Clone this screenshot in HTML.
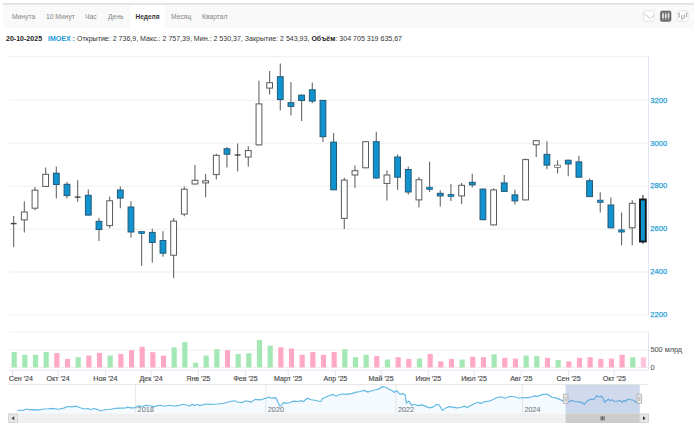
<!DOCTYPE html>
<html><head><meta charset="utf-8">
<style>
html,body{margin:0;padding:0;background:#fff;width:700px;height:425px;overflow:hidden;font-family:"Liberation Sans",sans-serif;}
#top{position:absolute;left:3px;top:3px;width:691px;height:2px;background:linear-gradient(#dcdcdc,#ececec);}
#tabs{position:absolute;left:3px;top:5px;width:691px;height:23px;background:#f9f9f9;}
.tab{position:absolute;top:0;height:23px;line-height:23.6px;font-size:6.9px;color:#858585;transform:scaleX(0.975);transform-origin:0 0;white-space:nowrap;}
.act{background:#fff;color:#333;font-weight:bold;font-size:6.5px;transform:none;}
#info{position:absolute;left:6px;top:34px;font-size:7.05px;color:#333;white-space:nowrap;line-height:10px;}
#info b{color:#222}
#info .t{color:#1a9ad9;font-weight:bold;}
svg{position:absolute;left:0;top:0;}
.yl{font-size:7.6px;fill:#2a9fd6;stroke:#2a9fd6;stroke-width:0.25px;font-family:"Liberation Sans",sans-serif;}
.vl{font-size:7.3px;fill:#5a5a5a;stroke:#5a5a5a;stroke-width:0.1px;font-family:"Liberation Sans",sans-serif;}
.xl{font-size:7.1px;fill:#4a4a4a;stroke:#4a4a4a;stroke-width:0.15px;font-family:"Liberation Sans",sans-serif;}
.nl{font-size:7.3px;fill:#7c7c7c;stroke:#7c7c7c;stroke-width:0.08px;font-family:"Liberation Sans",sans-serif;}
</style></head><body>
<div id="top"></div>
<div id="tabs">
<div class="tab" style="left:8.5px">Минута</div>
<div class="tab" style="left:42.5px">10 Минут</div>
<div class="tab" style="left:82px">Час</div>
<div class="tab" style="left:105px">День</div>
<div class="tab act" style="left:127px;width:35px;text-align:center">Неделя</div>
<div class="tab" style="left:168px">Месяц</div>
<div class="tab" style="left:199px">Квартал</div>
</div>
<svg width="700" height="30" style="position:absolute;left:0;top:0">
<rect x="643.5" y="10.9" width="10.6" height="10.4" rx="1.6" fill="#fff" stroke="#e2e2e2" stroke-width="0.9"/>
<polyline points="643.9,13.5 650.3,18.5 654,15.3" fill="none" stroke="#c2c2c2" stroke-width="0.9"/>
<rect x="660.4" y="11" width="10.6" height="10.4" rx="1.6" fill="#6d6d6d" stroke="#6a6a6a" stroke-width="0.6"/>
<g stroke="#d8d8d8" stroke-width="0.6"><line x1="663" y1="12.3" x2="663" y2="20.2"/><line x1="665.7" y1="12.3" x2="665.7" y2="20.2"/><line x1="668.5" y1="12.3" x2="668.5" y2="20.2"/></g>
<g fill="#e6e6e6"><rect x="662.2" y="13.5" width="1.6" height="4.6"/><rect x="664.9" y="14" width="1.6" height="4.2"/><rect x="667.7" y="13.2" width="1.6" height="4.6"/></g>
<rect x="677.5" y="10.9" width="10.6" height="10.4" rx="1.6" fill="#fff" stroke="#e2e2e2" stroke-width="0.9"/>
<g fill="none" stroke="#9e9e9e" stroke-width="0.9"><path d="M679.2,12.8 V17.4 M678.3,13.6 H679.2 M679.2,16.6 H680"/><path d="M681.8,15.2 V19.8 M681,16 H681.8 M681.8,19 H682.6"/><path d="M684.2,14.6 V19 M683.4,18.2 H684.2 M684.2,15.4 H685"/><path d="M686.6,12.6 V17 M685.8,16.2 H686.6 M686.6,13.4 H687.4"/></g>
</svg>
<div id="info"><b>20-10-2025</b>&nbsp;&nbsp; <span class="t">IMOEX :</span> Открытие: 2 736,9, Макс.: 2 757,39, Мин.: 2 530,37, Закрытие: 2 543,93, <b>Объём</b>: 304 705 319 635,67</div>
<svg width="700" height="425" viewBox="0 0 700 425">
<line x1="9" y1="56.7" x2="648" y2="56.7" stroke="#efefef" stroke-width="1"/>
<line x1="9" y1="100.2" x2="648" y2="100.2" stroke="#efefef" stroke-width="1"/>
<line x1="9" y1="143.2" x2="648" y2="143.2" stroke="#efefef" stroke-width="1"/>
<line x1="9" y1="186.1" x2="648" y2="186.1" stroke="#efefef" stroke-width="1"/>
<line x1="9" y1="229.1" x2="648" y2="229.1" stroke="#efefef" stroke-width="1"/>
<line x1="9" y1="272.0" x2="648" y2="272.0" stroke="#efefef" stroke-width="1"/>
<line x1="9" y1="314.9" x2="648" y2="314.9" stroke="#efefef" stroke-width="1"/>
<text x="650.3" y="102.5" class="yl">3200</text>
<text x="650.3" y="145.5" class="yl">3000</text>
<text x="650.3" y="188.4" class="yl">2800</text>
<text x="650.3" y="231.4" class="yl">2600</text>
<text x="650.3" y="274.3" class="yl">2400</text>
<text x="650.3" y="317.2" class="yl">2200</text>
<line x1="648.5" y1="56" x2="648.5" y2="315" stroke="#dfe5f3" stroke-width="1"/>
<line x1="13.66" y1="216.1" x2="13.66" y2="246.9" stroke="#666" stroke-width="1.1"/>
<line x1="10.76" y1="223.60" x2="16.56" y2="223.60" stroke="#444" stroke-width="1.4"/>
<line x1="24.32" y1="201.3" x2="24.32" y2="232.5" stroke="#666" stroke-width="1.1"/>
<rect x="21.43" y="212.0" width="5.80" height="7.9" fill="#ffffff" stroke="#5a5a5a" stroke-width="1"/>
<line x1="34.99" y1="187.1" x2="34.99" y2="210.2" stroke="#666" stroke-width="1.1"/>
<rect x="32.09" y="190.2" width="5.80" height="18.0" fill="#ffffff" stroke="#5a5a5a" stroke-width="1"/>
<line x1="45.66" y1="167.4" x2="45.66" y2="186.9" stroke="#666" stroke-width="1.1"/>
<rect x="42.76" y="174.3" width="5.80" height="12.1" fill="#ffffff" stroke="#5a5a5a" stroke-width="1"/>
<line x1="56.32" y1="166.4" x2="56.32" y2="198.6" stroke="#666" stroke-width="1.1"/>
<rect x="53.42" y="173.2" width="5.80" height="11.3" fill="#1193d0" stroke="#245a76" stroke-width="1"/>
<line x1="66.98" y1="182.1" x2="66.98" y2="198.6" stroke="#666" stroke-width="1.1"/>
<rect x="64.08" y="184.3" width="5.80" height="11.3" fill="#1193d0" stroke="#245a76" stroke-width="1"/>
<line x1="77.65" y1="180.2" x2="77.65" y2="201.8" stroke="#666" stroke-width="1.1"/>
<line x1="74.75" y1="197.10" x2="80.55" y2="197.10" stroke="#444" stroke-width="1.4"/>
<line x1="88.31" y1="189.5" x2="88.31" y2="215.6" stroke="#666" stroke-width="1.1"/>
<rect x="85.41" y="195.3" width="5.80" height="19.8" fill="#1193d0" stroke="#245a76" stroke-width="1"/>
<line x1="98.98" y1="217.7" x2="98.98" y2="241.0" stroke="#666" stroke-width="1.1"/>
<rect x="96.08" y="221.3" width="5.80" height="8.2" fill="#1193d0" stroke="#245a76" stroke-width="1"/>
<line x1="109.64" y1="196.5" x2="109.64" y2="228.3" stroke="#666" stroke-width="1.1"/>
<rect x="106.74" y="200.8" width="5.80" height="24.8" fill="#ffffff" stroke="#5a5a5a" stroke-width="1"/>
<line x1="120.31" y1="186.4" x2="120.31" y2="208.2" stroke="#666" stroke-width="1.1"/>
<rect x="117.41" y="190.0" width="5.80" height="8.1" fill="#1193d0" stroke="#245a76" stroke-width="1"/>
<line x1="130.97" y1="201.2" x2="130.97" y2="237.6" stroke="#666" stroke-width="1.1"/>
<rect x="128.07" y="207.0" width="5.80" height="25.0" fill="#1193d0" stroke="#245a76" stroke-width="1"/>
<line x1="141.64" y1="232.0" x2="141.64" y2="265.8" stroke="#666" stroke-width="1.1"/>
<rect x="138.74" y="231.40" width="5.80" height="2.2" fill="#1193d0" stroke="#245a76" stroke-width="0.7"/>
<line x1="152.30" y1="228.7" x2="152.30" y2="262.6" stroke="#666" stroke-width="1.1"/>
<rect x="149.40" y="232.4" width="5.80" height="10.0" fill="#1193d0" stroke="#245a76" stroke-width="1"/>
<line x1="162.97" y1="231.3" x2="162.97" y2="256.7" stroke="#666" stroke-width="1.1"/>
<rect x="160.07" y="240.5" width="5.80" height="12.7" fill="#1193d0" stroke="#245a76" stroke-width="1"/>
<line x1="173.63" y1="218.0" x2="173.63" y2="278.0" stroke="#666" stroke-width="1.1"/>
<rect x="170.73" y="221.1" width="5.80" height="34.1" fill="#ffffff" stroke="#5a5a5a" stroke-width="1"/>
<line x1="184.30" y1="186.6" x2="184.30" y2="216.3" stroke="#666" stroke-width="1.1"/>
<rect x="181.40" y="189.2" width="5.80" height="24.9" fill="#ffffff" stroke="#5a5a5a" stroke-width="1"/>
<line x1="194.96" y1="165.0" x2="194.96" y2="184.5" stroke="#666" stroke-width="1.1"/>
<rect x="192.06" y="180.3" width="5.80" height="3.7" fill="#ffffff" stroke="#5a5a5a" stroke-width="1"/>
<line x1="205.63" y1="173.9" x2="205.63" y2="197.2" stroke="#666" stroke-width="1.1"/>
<rect x="202.73" y="180.8" width="5.80" height="2.1" fill="#ffffff" stroke="#5a5a5a" stroke-width="1"/>
<line x1="216.29" y1="153.8" x2="216.29" y2="179.4" stroke="#666" stroke-width="1.1"/>
<rect x="213.39" y="155.3" width="5.80" height="19.3" fill="#ffffff" stroke="#5a5a5a" stroke-width="1"/>
<line x1="226.96" y1="146.9" x2="226.96" y2="167.4" stroke="#666" stroke-width="1.1"/>
<rect x="224.06" y="148.8" width="5.80" height="5.4" fill="#1193d0" stroke="#245a76" stroke-width="1"/>
<line x1="237.62" y1="143.4" x2="237.62" y2="171.6" stroke="#666" stroke-width="1.1"/>
<line x1="234.72" y1="155.00" x2="240.52" y2="155.00" stroke="#444" stroke-width="1.4"/>
<line x1="248.29" y1="146.2" x2="248.29" y2="166.4" stroke="#666" stroke-width="1.1"/>
<rect x="245.39" y="150.6" width="5.80" height="6.4" fill="#ffffff" stroke="#5a5a5a" stroke-width="1"/>
<line x1="258.95" y1="80.8" x2="258.95" y2="145.4" stroke="#666" stroke-width="1.1"/>
<rect x="256.06" y="103.9" width="5.80" height="41.0" fill="#ffffff" stroke="#5a5a5a" stroke-width="1"/>
<line x1="269.62" y1="71.0" x2="269.62" y2="94.5" stroke="#666" stroke-width="1.1"/>
<rect x="266.72" y="82.7" width="5.80" height="5.4" fill="#ffffff" stroke="#5a5a5a" stroke-width="1"/>
<line x1="280.29" y1="63.5" x2="280.29" y2="110.5" stroke="#666" stroke-width="1.1"/>
<rect x="277.39" y="76.7" width="5.80" height="22.9" fill="#1193d0" stroke="#245a76" stroke-width="1"/>
<line x1="290.95" y1="82.1" x2="290.95" y2="115.4" stroke="#666" stroke-width="1.1"/>
<rect x="288.05" y="102.7" width="5.80" height="3.7" fill="#1193d0" stroke="#245a76" stroke-width="1"/>
<line x1="301.62" y1="94.6" x2="301.62" y2="121.1" stroke="#666" stroke-width="1.1"/>
<rect x="298.72" y="95.1" width="5.80" height="5.4" fill="#1193d0" stroke="#245a76" stroke-width="1"/>
<line x1="312.28" y1="82.5" x2="312.28" y2="103.3" stroke="#666" stroke-width="1.1"/>
<rect x="309.38" y="89.8" width="5.80" height="11.3" fill="#1193d0" stroke="#245a76" stroke-width="1"/>
<line x1="322.94" y1="99.9" x2="322.94" y2="141.9" stroke="#666" stroke-width="1.1"/>
<rect x="320.05" y="100.4" width="5.80" height="36.3" fill="#1193d0" stroke="#245a76" stroke-width="1"/>
<line x1="333.61" y1="133.1" x2="333.61" y2="190.3" stroke="#666" stroke-width="1.1"/>
<rect x="330.71" y="142.1" width="5.80" height="47.7" fill="#1193d0" stroke="#245a76" stroke-width="1"/>
<line x1="344.27" y1="177.7" x2="344.27" y2="229.0" stroke="#666" stroke-width="1.1"/>
<rect x="341.38" y="180.1" width="5.80" height="38.3" fill="#ffffff" stroke="#5a5a5a" stroke-width="1"/>
<line x1="354.94" y1="165.6" x2="354.94" y2="187.8" stroke="#666" stroke-width="1.1"/>
<rect x="352.04" y="170.7" width="5.80" height="4.3" fill="#ffffff" stroke="#5a5a5a" stroke-width="1"/>
<line x1="365.61" y1="141.2" x2="365.61" y2="168.3" stroke="#666" stroke-width="1.1"/>
<rect x="362.71" y="141.7" width="5.80" height="26.1" fill="#ffffff" stroke="#5a5a5a" stroke-width="1"/>
<line x1="376.27" y1="131.7" x2="376.27" y2="178.5" stroke="#666" stroke-width="1.1"/>
<rect x="373.37" y="141.7" width="5.80" height="36.3" fill="#1193d0" stroke="#245a76" stroke-width="1"/>
<line x1="386.94" y1="170.3" x2="386.94" y2="200.4" stroke="#666" stroke-width="1.1"/>
<rect x="384.04" y="175.0" width="5.80" height="8.4" fill="#ffffff" stroke="#5a5a5a" stroke-width="1"/>
<line x1="397.60" y1="154.4" x2="397.60" y2="189.8" stroke="#666" stroke-width="1.1"/>
<rect x="394.70" y="157.0" width="5.80" height="20.2" fill="#1193d0" stroke="#245a76" stroke-width="1"/>
<line x1="408.26" y1="166.5" x2="408.26" y2="194.7" stroke="#666" stroke-width="1.1"/>
<rect x="405.37" y="169.5" width="5.80" height="22.5" fill="#1193d0" stroke="#245a76" stroke-width="1"/>
<line x1="418.93" y1="177.1" x2="418.93" y2="207.4" stroke="#666" stroke-width="1.1"/>
<rect x="416.03" y="179.7" width="5.80" height="20.2" fill="#ffffff" stroke="#5a5a5a" stroke-width="1"/>
<line x1="429.59" y1="161.8" x2="429.59" y2="191.9" stroke="#666" stroke-width="1.1"/>
<rect x="426.69" y="187.20" width="5.80" height="2.2" fill="#1193d0" stroke="#245a76" stroke-width="0.7"/>
<line x1="440.26" y1="190.3" x2="440.26" y2="206.6" stroke="#666" stroke-width="1.1"/>
<rect x="437.36" y="193.3" width="5.80" height="2.6" fill="#1193d0" stroke="#245a76" stroke-width="1"/>
<line x1="450.93" y1="183.9" x2="450.93" y2="200.9" stroke="#666" stroke-width="1.1"/>
<rect x="448.03" y="194.35" width="5.80" height="2.2" fill="#1193d0" stroke="#245a76" stroke-width="0.7"/>
<line x1="461.59" y1="182.9" x2="461.59" y2="204.1" stroke="#666" stroke-width="1.1"/>
<rect x="458.69" y="185.3" width="5.80" height="10.6" fill="#ffffff" stroke="#5a5a5a" stroke-width="1"/>
<line x1="472.25" y1="173.8" x2="472.25" y2="187.5" stroke="#666" stroke-width="1.1"/>
<rect x="469.36" y="182.3" width="5.80" height="2.6" fill="#1193d0" stroke="#245a76" stroke-width="1"/>
<line x1="482.92" y1="188.6" x2="482.92" y2="220.2" stroke="#666" stroke-width="1.1"/>
<rect x="480.02" y="189.1" width="5.80" height="30.6" fill="#1193d0" stroke="#245a76" stroke-width="1"/>
<line x1="493.58" y1="188.3" x2="493.58" y2="225.4" stroke="#666" stroke-width="1.1"/>
<rect x="490.69" y="189.9" width="5.80" height="35.0" fill="#ffffff" stroke="#5a5a5a" stroke-width="1"/>
<line x1="504.25" y1="175.0" x2="504.25" y2="191.9" stroke="#666" stroke-width="1.1"/>
<rect x="501.35" y="182.9" width="5.80" height="8.5" fill="#1193d0" stroke="#245a76" stroke-width="1"/>
<line x1="514.91" y1="189.8" x2="514.91" y2="204.6" stroke="#666" stroke-width="1.1"/>
<rect x="512.01" y="194.9" width="5.80" height="6.0" fill="#1193d0" stroke="#245a76" stroke-width="1"/>
<line x1="525.58" y1="158.4" x2="525.58" y2="200.4" stroke="#666" stroke-width="1.1"/>
<rect x="522.68" y="159.6" width="5.80" height="40.3" fill="#ffffff" stroke="#5a5a5a" stroke-width="1"/>
<line x1="536.24" y1="140.2" x2="536.24" y2="157.1" stroke="#666" stroke-width="1.1"/>
<rect x="533.34" y="140.7" width="5.80" height="4.1" fill="#ffffff" stroke="#5a5a5a" stroke-width="1"/>
<line x1="546.91" y1="141.2" x2="546.91" y2="169.2" stroke="#666" stroke-width="1.1"/>
<rect x="544.01" y="154.4" width="5.80" height="10.7" fill="#1193d0" stroke="#245a76" stroke-width="1"/>
<line x1="557.57" y1="160.3" x2="557.57" y2="173.4" stroke="#666" stroke-width="1.1"/>
<rect x="554.67" y="165.15" width="5.80" height="2.2" fill="#ffffff" stroke="#5a5a5a" stroke-width="0.7"/>
<line x1="568.24" y1="159.7" x2="568.24" y2="176.2" stroke="#666" stroke-width="1.1"/>
<rect x="565.34" y="160.2" width="5.80" height="3.8" fill="#1193d0" stroke="#245a76" stroke-width="1"/>
<line x1="578.90" y1="155.8" x2="578.90" y2="177.7" stroke="#666" stroke-width="1.1"/>
<rect x="576.00" y="161.9" width="5.80" height="15.3" fill="#1193d0" stroke="#245a76" stroke-width="1"/>
<line x1="589.57" y1="178.5" x2="589.57" y2="197.1" stroke="#666" stroke-width="1.1"/>
<rect x="586.67" y="180.7" width="5.80" height="15.9" fill="#1193d0" stroke="#245a76" stroke-width="1"/>
<line x1="600.23" y1="192.2" x2="600.23" y2="212.4" stroke="#666" stroke-width="1.1"/>
<rect x="597.33" y="200.15" width="5.80" height="2.2" fill="#1193d0" stroke="#245a76" stroke-width="0.7"/>
<line x1="610.90" y1="197.5" x2="610.90" y2="228.3" stroke="#666" stroke-width="1.1"/>
<rect x="608.00" y="205.0" width="5.80" height="22.8" fill="#1193d0" stroke="#245a76" stroke-width="1"/>
<line x1="621.56" y1="212.4" x2="621.56" y2="245.2" stroke="#666" stroke-width="1.1"/>
<rect x="618.66" y="229.85" width="5.80" height="2.2" fill="#1193d0" stroke="#245a76" stroke-width="0.7"/>
<line x1="632.23" y1="200.3" x2="632.23" y2="245.2" stroke="#666" stroke-width="1.1"/>
<rect x="629.33" y="203.3" width="5.80" height="24.5" fill="#ffffff" stroke="#5a5a5a" stroke-width="1"/>
<line x1="642.89" y1="195.0" x2="642.89" y2="243.8" stroke="#666" stroke-width="1.5"/>
<rect x="639.99" y="199.5" width="5.80" height="42.0" fill="#1193d0" stroke="#161a1e" stroke-width="1.9"/>
<line x1="9" y1="331.8" x2="648" y2="331.8" stroke="#efefef" stroke-width="1"/>
<line x1="9" y1="350.1" x2="648" y2="350.1" stroke="#efefef" stroke-width="1"/>
<line x1="9" y1="367.3" x2="648" y2="367.3" stroke="#efefef" stroke-width="1"/>
<line x1="648.5" y1="331.5" x2="648.5" y2="370" stroke="#dfe5f3" stroke-width="1"/>
<text x="650.5" y="352.3" class="vl">500 млрд</text>
<text x="650.5" y="370.2" class="vl">0</text>
<rect x="11.61" y="352.0" width="5.2" height="15.5" fill="#a3e7b4"/>
<rect x="22.27" y="354.8" width="5.2" height="12.7" fill="#a3e7b4"/>
<rect x="32.94" y="354.8" width="5.2" height="12.7" fill="#a3e7b4"/>
<rect x="43.61" y="352.0" width="5.2" height="15.5" fill="#a3e7b4"/>
<rect x="54.27" y="353.1" width="5.2" height="14.4" fill="#ffa8c6"/>
<rect x="64.94" y="358.9" width="5.2" height="8.6" fill="#ffa8c6"/>
<rect x="75.60" y="357.2" width="5.2" height="10.3" fill="#a3e7b4"/>
<rect x="86.27" y="355.6" width="5.2" height="11.9" fill="#ffa8c6"/>
<rect x="96.93" y="352.8" width="5.2" height="14.7" fill="#ffa8c6"/>
<rect x="107.59" y="355.6" width="5.2" height="11.9" fill="#a3e7b4"/>
<rect x="118.26" y="353.9" width="5.2" height="13.6" fill="#ffa8c6"/>
<rect x="128.92" y="350.1" width="5.2" height="17.4" fill="#ffa8c6"/>
<rect x="139.59" y="346.8" width="5.2" height="20.7" fill="#ffa8c6"/>
<rect x="150.25" y="352.2" width="5.2" height="15.3" fill="#ffa8c6"/>
<rect x="160.92" y="355.6" width="5.2" height="11.9" fill="#ffa8c6"/>
<rect x="171.58" y="347.4" width="5.2" height="20.1" fill="#a3e7b4"/>
<rect x="182.25" y="342.1" width="5.2" height="25.4" fill="#a3e7b4"/>
<rect x="192.91" y="362.7" width="5.2" height="4.8" fill="#a3e7b4"/>
<rect x="203.58" y="355.6" width="5.2" height="11.9" fill="#a3e7b4"/>
<rect x="214.24" y="349.2" width="5.2" height="18.3" fill="#a3e7b4"/>
<rect x="224.91" y="350.1" width="5.2" height="17.4" fill="#ffa8c6"/>
<rect x="235.57" y="353.9" width="5.2" height="13.6" fill="#a3e7b4"/>
<rect x="246.24" y="353.3" width="5.2" height="14.2" fill="#a3e7b4"/>
<rect x="256.90" y="339.9" width="5.2" height="27.6" fill="#a3e7b4"/>
<rect x="267.57" y="345.7" width="5.2" height="21.8" fill="#a3e7b4"/>
<rect x="278.24" y="347.3" width="5.2" height="20.2" fill="#ffa8c6"/>
<rect x="288.90" y="348.5" width="5.2" height="19.0" fill="#ffa8c6"/>
<rect x="299.56" y="354.8" width="5.2" height="12.7" fill="#ffa8c6"/>
<rect x="310.23" y="352.0" width="5.2" height="15.5" fill="#ffa8c6"/>
<rect x="320.89" y="354.8" width="5.2" height="12.7" fill="#ffa8c6"/>
<rect x="331.56" y="352.0" width="5.2" height="15.5" fill="#ffa8c6"/>
<rect x="342.22" y="349.2" width="5.2" height="18.3" fill="#a3e7b4"/>
<rect x="352.89" y="357.2" width="5.2" height="10.3" fill="#a3e7b4"/>
<rect x="363.56" y="354.8" width="5.2" height="12.7" fill="#a3e7b4"/>
<rect x="374.22" y="356.1" width="5.2" height="11.4" fill="#ffa8c6"/>
<rect x="384.88" y="359.5" width="5.2" height="8.0" fill="#a3e7b4"/>
<rect x="395.55" y="357.2" width="5.2" height="10.3" fill="#ffa8c6"/>
<rect x="406.21" y="358.9" width="5.2" height="8.6" fill="#ffa8c6"/>
<rect x="416.88" y="358.6" width="5.2" height="8.9" fill="#a3e7b4"/>
<rect x="427.54" y="353.9" width="5.2" height="13.6" fill="#ffa8c6"/>
<rect x="438.21" y="361.4" width="5.2" height="6.1" fill="#ffa8c6"/>
<rect x="448.88" y="358.9" width="5.2" height="8.6" fill="#ffa8c6"/>
<rect x="459.54" y="359.5" width="5.2" height="8.0" fill="#a3e7b4"/>
<rect x="470.20" y="356.7" width="5.2" height="10.8" fill="#ffa8c6"/>
<rect x="480.87" y="357.2" width="5.2" height="10.3" fill="#ffa8c6"/>
<rect x="491.53" y="354.4" width="5.2" height="13.1" fill="#a3e7b4"/>
<rect x="502.20" y="357.8" width="5.2" height="9.7" fill="#ffa8c6"/>
<rect x="512.87" y="358.6" width="5.2" height="8.9" fill="#ffa8c6"/>
<rect x="523.53" y="355.6" width="5.2" height="11.9" fill="#a3e7b4"/>
<rect x="534.19" y="356.1" width="5.2" height="11.4" fill="#a3e7b4"/>
<rect x="544.86" y="357.8" width="5.2" height="9.7" fill="#ffa8c6"/>
<rect x="555.52" y="360.0" width="5.2" height="7.5" fill="#a3e7b4"/>
<rect x="566.19" y="361.4" width="5.2" height="6.1" fill="#ffa8c6"/>
<rect x="576.86" y="357.8" width="5.2" height="9.7" fill="#ffa8c6"/>
<rect x="587.52" y="357.2" width="5.2" height="10.3" fill="#ffa8c6"/>
<rect x="598.18" y="358.9" width="5.2" height="8.6" fill="#ffa8c6"/>
<rect x="608.85" y="358.6" width="5.2" height="8.9" fill="#ffa8c6"/>
<rect x="619.51" y="354.8" width="5.2" height="12.7" fill="#ffa8c6"/>
<rect x="630.18" y="357.2" width="5.2" height="10.3" fill="#a3e7b4"/>
<rect x="640.84" y="357.2" width="5.2" height="10.3" fill="#ffc4dd"/>
<line x1="9" y1="370.2" x2="648" y2="370.2" stroke="#dfe5f3" stroke-width="1"/>
<line x1="12.44" y1="370" x2="12.44" y2="376" stroke="#dfe5f3" stroke-width="1"/>
<text x="8.8" y="381.1" class="xl">Сен '24</text>
<line x1="58.14" y1="370" x2="58.14" y2="376" stroke="#dfe5f3" stroke-width="1"/>
<text x="58.14" y="381.1" class="xl" text-anchor="middle">Окт '24</text>
<line x1="105.37" y1="370" x2="105.37" y2="376" stroke="#dfe5f3" stroke-width="1"/>
<text x="105.37" y="381.1" class="xl" text-anchor="middle">Ноя '24</text>
<line x1="151.08" y1="370" x2="151.08" y2="376" stroke="#dfe5f3" stroke-width="1"/>
<text x="151.08" y="381.1" class="xl" text-anchor="middle">Дек '24</text>
<line x1="198.31" y1="370" x2="198.31" y2="376" stroke="#dfe5f3" stroke-width="1"/>
<text x="198.31" y="381.1" class="xl" text-anchor="middle">Янв '25</text>
<line x1="245.54" y1="370" x2="245.54" y2="376" stroke="#dfe5f3" stroke-width="1"/>
<text x="245.54" y="381.1" class="xl" text-anchor="middle">Фев '25</text>
<line x1="288.20" y1="370" x2="288.20" y2="376" stroke="#dfe5f3" stroke-width="1"/>
<text x="288.20" y="381.1" class="xl" text-anchor="middle">Март '25</text>
<line x1="335.43" y1="370" x2="335.43" y2="376" stroke="#dfe5f3" stroke-width="1"/>
<text x="335.43" y="381.1" class="xl" text-anchor="middle">Апр '25</text>
<line x1="381.14" y1="370" x2="381.14" y2="376" stroke="#dfe5f3" stroke-width="1"/>
<text x="381.14" y="381.1" class="xl" text-anchor="middle">Май '25</text>
<line x1="428.37" y1="370" x2="428.37" y2="376" stroke="#dfe5f3" stroke-width="1"/>
<text x="428.37" y="381.1" class="xl" text-anchor="middle">Июн '25</text>
<line x1="474.08" y1="370" x2="474.08" y2="376" stroke="#dfe5f3" stroke-width="1"/>
<text x="474.08" y="381.1" class="xl" text-anchor="middle">Июл '25</text>
<line x1="521.31" y1="370" x2="521.31" y2="376" stroke="#dfe5f3" stroke-width="1"/>
<text x="521.31" y="381.1" class="xl" text-anchor="middle">Авг '25</text>
<line x1="568.54" y1="370" x2="568.54" y2="376" stroke="#dfe5f3" stroke-width="1"/>
<text x="568.54" y="381.1" class="xl" text-anchor="middle">Сен '25</text>
<line x1="614.25" y1="370" x2="614.25" y2="376" stroke="#dfe5f3" stroke-width="1"/>
<text x="614.25" y="381.1" class="xl" text-anchor="middle">Окт '25</text>
<line x1="9" y1="384.6" x2="648" y2="384.6" stroke="#e6e6e6" stroke-width="1"/>
<line x1="135.6" y1="384.6" x2="135.6" y2="413.5" stroke="#e8e8e8" stroke-width="1"/>
<text x="137.6" y="411.7" class="nl">2018</text>
<line x1="265.8" y1="384.6" x2="265.8" y2="413.5" stroke="#e8e8e8" stroke-width="1"/>
<text x="267.8" y="411.7" class="nl">2020</text>
<line x1="395.9" y1="384.6" x2="395.9" y2="413.5" stroke="#e8e8e8" stroke-width="1"/>
<text x="397.9" y="411.7" class="nl">2022</text>
<line x1="522.4" y1="384.6" x2="522.4" y2="413.5" stroke="#e8e8e8" stroke-width="1"/>
<text x="524.4" y="411.7" class="nl">2024</text>
<polygon points="17.5,413.5 17.6,410.1 22.7,410.5 26.6,409 30.4,409.8 34.3,409.7 38.1,410.1 42,409.2 48.4,408.8 51,408.4 58.7,409.2 63.8,408.1 67.7,406.5 71.6,406.9 76,406.2 79.3,407.5 84.4,409 88.3,408.5 90.8,409.7 93.4,408.5 97.3,409.4 100.5,410.7 105.1,409.7 110.3,409.2 115.4,408.4 120.6,408.1 125.7,407.9 127.6,407.1 130.8,407.9 134.7,407.9 138.6,405.9 142.4,406.2 146.3,405.3 150.1,405.8 154,406.9 157.2,405.6 160.4,405.3 164.3,406.2 169.4,405.3 173.3,406 178.4,405.6 183.5,404.3 187.4,405.3 189.5,406.2 192.1,404.5 194.6,405.3 197.2,404.3 199.8,405.6 205.6,404 210.7,404.3 217.1,404 223.6,403.3 230,401.5 234.5,400.8 237.7,402 241.6,402.6 246.1,400.8 251.2,402.1 255.1,399.4 260.8,399.8 264.7,398.5 269.2,397.2 271.1,398.2 272.6,397.9 275.1,397.6 276.4,398.5 279.6,405.8 280.9,406.2 283.5,402.4 286.1,403.3 289.3,402.7 293.8,401.1 298.3,401.5 300.8,400.7 303.4,401.5 307.3,398.2 311.1,399.8 315,400.2 320.8,401.7 322.7,398.5 327.8,396.3 333,394.4 336.2,396.2 340.1,394.3 343.9,394 347.1,394.3 352.3,393.4 356.1,392.1 358.9,391.7 364,390.4 367.9,392.1 371.7,390.8 376.9,389.5 379.4,388.9 382,386.7 385.8,387.3 389.7,389.5 392.3,390.8 394.2,392.3 396.8,390.8 400,394.3 402.6,393.7 405.1,394.6 406.4,403 409,401.1 411.6,405.6 414.1,404.3 418,405.6 422.5,404.9 427,406.9 429.6,407.9 433.4,406.9 436.6,404.3 439.2,404.9 442.4,410.5 445.8,407.9 449,406.6 452.9,407.1 456.7,407.9 460.6,407.5 464.4,406.2 467,407.5 470.8,405.6 474.7,403.6 477.9,402.1 480.5,403.6 484.3,401.7 488.8,401.1 492.7,399.8 497.2,397.5 501.1,396.8 504.9,398.2 510.1,396.3 514.6,396.8 519,398.2 523.5,397.5 528.2,397.6 532.1,396.8 534.6,395.9 537.9,396.3 541.7,394.6 546.9,394 548.8,395.3 552,397.2 555.8,397.9 559.1,399.1 562.9,400.7 568.7,401.7 571.3,400.4 575.1,401.5 578.3,401.7 581.6,402.4 584.5,404.3 587,401 591,399.2 594,399.5 596.5,395.8 598.5,396.8 601,396.2 603,397.5 604.5,402.2 606.5,400.5 608.5,399.3 610,400.5 612,399.8 614,401.2 617,401.2 620,400.5 622,402.2 624,400.5 625.5,401.5 627.5,399.3 631,399.8 633,400 636,402 637.5,402.8 639.7,403 640,413.5" fill="#4aa8d8" fill-opacity="0.06"/>
<polyline points="17.6,410.1 22.7,410.5 26.6,409 30.4,409.8 34.3,409.7 38.1,410.1 42,409.2 48.4,408.8 51,408.4 58.7,409.2 63.8,408.1 67.7,406.5 71.6,406.9 76,406.2 79.3,407.5 84.4,409 88.3,408.5 90.8,409.7 93.4,408.5 97.3,409.4 100.5,410.7 105.1,409.7 110.3,409.2 115.4,408.4 120.6,408.1 125.7,407.9 127.6,407.1 130.8,407.9 134.7,407.9 138.6,405.9 142.4,406.2 146.3,405.3 150.1,405.8 154,406.9 157.2,405.6 160.4,405.3 164.3,406.2 169.4,405.3 173.3,406 178.4,405.6 183.5,404.3 187.4,405.3 189.5,406.2 192.1,404.5 194.6,405.3 197.2,404.3 199.8,405.6 205.6,404 210.7,404.3 217.1,404 223.6,403.3 230,401.5 234.5,400.8 237.7,402 241.6,402.6 246.1,400.8 251.2,402.1 255.1,399.4 260.8,399.8 264.7,398.5 269.2,397.2 271.1,398.2 272.6,397.9 275.1,397.6 276.4,398.5 279.6,405.8 280.9,406.2 283.5,402.4 286.1,403.3 289.3,402.7 293.8,401.1 298.3,401.5 300.8,400.7 303.4,401.5 307.3,398.2 311.1,399.8 315,400.2 320.8,401.7 322.7,398.5 327.8,396.3 333,394.4 336.2,396.2 340.1,394.3 343.9,394 347.1,394.3 352.3,393.4 356.1,392.1 358.9,391.7 364,390.4 367.9,392.1 371.7,390.8 376.9,389.5 379.4,388.9 382,386.7 385.8,387.3 389.7,389.5 392.3,390.8 394.2,392.3 396.8,390.8 400,394.3 402.6,393.7 405.1,394.6 406.4,403 409,401.1 411.6,405.6 414.1,404.3 418,405.6 422.5,404.9 427,406.9 429.6,407.9 433.4,406.9 436.6,404.3 439.2,404.9 442.4,410.5 445.8,407.9 449,406.6 452.9,407.1 456.7,407.9 460.6,407.5 464.4,406.2 467,407.5 470.8,405.6 474.7,403.6 477.9,402.1 480.5,403.6 484.3,401.7 488.8,401.1 492.7,399.8 497.2,397.5 501.1,396.8 504.9,398.2 510.1,396.3 514.6,396.8 519,398.2 523.5,397.5 528.2,397.6 532.1,396.8 534.6,395.9 537.9,396.3 541.7,394.6 546.9,394 548.8,395.3 552,397.2 555.8,397.9 559.1,399.1 562.9,400.7 568.7,401.7 571.3,400.4 575.1,401.5 578.3,401.7 581.6,402.4 584.5,404.3 587,401 591,399.2 594,399.5 596.5,395.8 598.5,396.8 601,396.2 603,397.5 604.5,402.2 606.5,400.5 608.5,399.3 610,400.5 612,399.8 614,401.2 617,401.2 620,400.5 622,402.2 624,400.5 625.5,401.5 627.5,399.3 631,399.8 633,400 636,402 637.5,402.8 639.7,403" fill="none" stroke="#60b8e3" stroke-width="1.15"/>
<rect x="565.6" y="384.8" width="74.1" height="28.9" fill="rgb(102,133,194)" fill-opacity="0.3"/>
<rect x="8" y="413.5" width="641" height="9.5" fill="#f0f0f0"/>
<rect x="565.6" y="413.5" width="74.1" height="9.5" fill="#cccccc"/>
<rect x="8.5" y="414" width="9" height="8.5" fill="#e6e6e6" stroke="#d0d0d0" stroke-width="0.8"/>
<path d="M11.6,418.3 L14.2,416.3 L14.2,420.3 Z" fill="#333"/>
<rect x="639.8" y="414" width="8.7" height="8.5" fill="#e6e6e6" stroke="#d0d0d0" stroke-width="0.8"/>
<path d="M645.6,418.3 L643,416.3 L643,420.3 Z" fill="#333"/>
<line x1="601.1" y1="416.3" x2="601.1" y2="420.3" stroke="#333" stroke-width="0.8"/>
<line x1="602.6" y1="416.3" x2="602.6" y2="420.3" stroke="#333" stroke-width="0.8"/>
<line x1="604.1" y1="416.3" x2="604.1" y2="420.3" stroke="#333" stroke-width="0.8"/>
<rect x="563.3" y="394.3" width="4.6" height="9.2" rx="0.5" fill="#f2f2f2" stroke="#999" stroke-width="0.7"/>
<line x1="565.0" y1="396.5" x2="565.0" y2="401.5" stroke="#999" stroke-width="0.6"/>
<line x1="566.2" y1="396.5" x2="566.2" y2="401.5" stroke="#999" stroke-width="0.6"/>
<rect x="637.0" y="394.3" width="4.6" height="9.2" rx="0.5" fill="#f2f2f2" stroke="#999" stroke-width="0.7"/>
<line x1="638.7" y1="396.5" x2="638.7" y2="401.5" stroke="#999" stroke-width="0.6"/>
<line x1="639.9" y1="396.5" x2="639.9" y2="401.5" stroke="#999" stroke-width="0.6"/>
</svg>
</body></html>
